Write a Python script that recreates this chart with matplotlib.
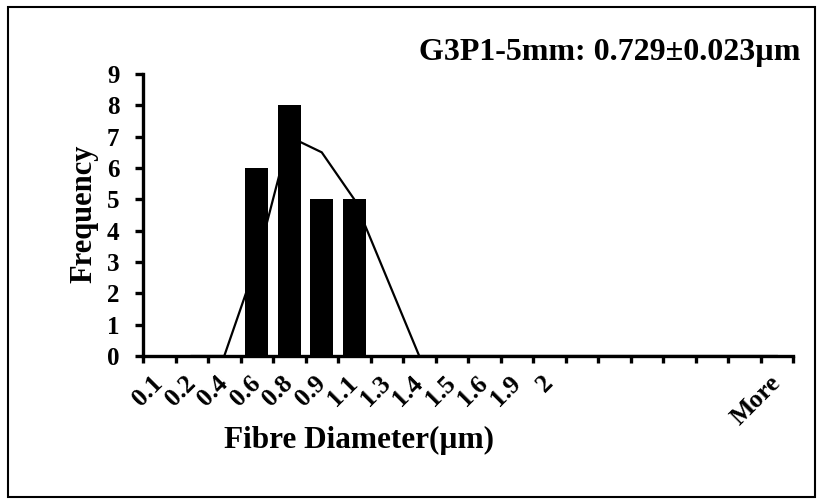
import matplotlib
matplotlib.use("Agg")
import matplotlib.pyplot as plt
import numpy as np
from matplotlib.patches import Rectangle

# ---- data ----
categories = ["0.1", "0.2", "0.4", "0.6", "0.8", "0.9", "1.1", "1.3", "1.4",
              "1.5", "1.6", "1.9", "2", "", "", "", "", "", "", "More"]
frequency = [0, 0, 0, 6, 8, 5, 5, 0, 0, 0, 0, 0, 0, 0, 0, 0, 0, 0, 0, 0]
# 2-period moving average trendline (starts at 2nd category)
trend_values = [0, 0, 3, 7, 6.5, 5, 2.5, 0, 0, 0, 0, 0, 0, 0, 0, 0, 0, 0, 0]
title_text = "G3P1-5mm: 0.729\u00b10.023\u00b5m"
x_label = "Fibre Diameter(\u00b5m)"
y_label = "Frequency"
y_ticks = list(range(0, 10))

plt.rcParams['font.family'] = ['Liberation Serif', 'DejaVu Serif']
plt.rcParams['font.weight'] = 'bold'

W, H = 823, 504
fig = plt.figure(figsize=(W / 100, H / 100), dpi=100)
fig.patch.set_facecolor("white")

ax_l, ax_r, ax_b, ax_t = 143, 793, 356, 74
ax = fig.add_axes([ax_l / W, 1 - ax_b / H, (ax_r - ax_l) / W, (ax_b - ax_t) / H])

n = len(categories)
x = np.arange(n)
ax.bar(x, frequency, width=0.7, color="black", zorder=3)
tx = np.arange(1, 1 + len(trend_values))
ax.plot(tx, trend_values, color="black", lw=1.6, zorder=2, solid_joinstyle='miter')

ax.set_xlim(-0.5, n - 0.5)
ax.set_ylim(0, 9)

for s in ["top", "right"]:
    ax.spines[s].set_visible(False)
for s in ["left", "bottom"]:
    ax.spines[s].set_linewidth(2.4)
    ax.spines[s].set_zorder(5)

# y axis
ax.set_yticks(y_ticks)
ax.set_yticklabels([str(v) for v in y_ticks], fontsize=18, fontweight='bold')
ax.tick_params(axis='y', direction='out', length=6, width=2.4, pad=11)

# x axis: major ticks at category boundaries, labels at centres
ax.set_xticks(np.arange(n + 1) - 0.5)
ax.set_xticklabels([])
ax.tick_params(axis='x', which='major', direction='out', length=5, width=2.4)
ax.set_xticks(x, minor=True)
ax.set_xticklabels(categories, minor=True, rotation=45, ha='right',
                   va='center', rotation_mode='anchor', fontsize=18.5,
                   fontweight='bold')
ax.tick_params(axis='x', which='minor', length=0, pad=17)

# labels
fig.text(84 / W, 1 - 214 / H, y_label, rotation=90, ha='center', va='center',
         fontsize=22, fontweight='bold')
fig.text(359 / W, 1 - 448 / H, x_label, ha='center', va='baseline',
         fontsize=22.5, fontweight='bold')
fig.text(800 / W, 1 - 60 / H, title_text, ha='right', va='baseline',
         fontsize=23, fontweight='bold')

# outer border
fig.patches.append(Rectangle((8 / W, 7 / H), (815 - 8) / W, (497 - 7) / H,
                             transform=fig.transFigure, fill=False,
                             edgecolor='black', lw=1.5))

fig.savefig("out.png", dpi=100, facecolor="white")
